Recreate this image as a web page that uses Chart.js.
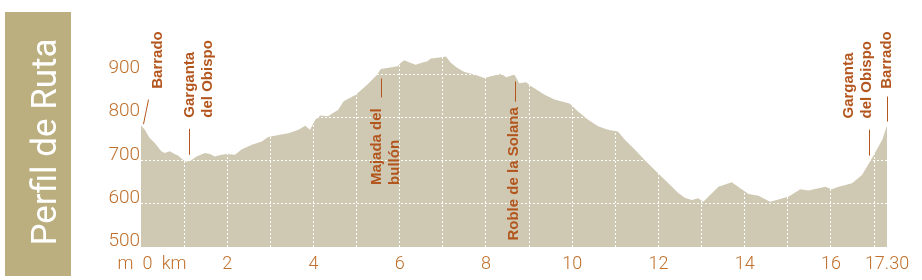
<!DOCTYPE html>
<html>
<head>
<meta charset="utf-8">
<script src="https://cdn.jsdelivr.net/npm/chart.js@4/dist/chart.umd.min.js"></script>
<style>
  html, body { margin: 0; padding: 0; background: #fff; }
  #wrap { width: 922px; height: 280px; }
</style>
</head>
<body>
<div id="wrap"><canvas id="perfil" width="922" height="280"></canvas></div>
<script>
// Perfil de la ruta: distancia (km) y altitud (m)
const distKm = [
    0, 0.09, 0.2, 0.32, 0.47, 0.55, 0.67, 0.78, 0.86, 0.98,
    1.05, 1.17, 1.29, 1.48, 1.6, 1.71, 1.87, 1.99, 2.18, 2.33,
    2.57, 2.8, 2.95, 3.19, 3.42, 3.65, 3.81, 3.92, 4.04, 4.16,
    4.34, 4.47, 4.57, 4.7, 4.98, 5.25, 5.48, 5.56, 5.71, 5.95,
    6.02, 6.1, 6.26, 6.37, 6.49, 6.64, 6.72, 6.88, 7.07, 7.19,
    7.34, 7.5, 7.73, 7.96, 8.12, 8.35, 8.47, 8.66, 8.77, 8.93,
    9.05, 9.36, 9.59, 9.74, 9.94, 10.13, 10.37, 10.6, 10.83, 11.06,
    11.22, 11.45, 11.68, 11.99, 12.23, 12.46, 12.61, 12.77, 12.92, 13.04,
    13.39, 13.7, 13.93, 14.09, 14.32, 14.59, 14.78, 15.02, 15.29, 15.48,
    15.87, 16.02, 16.18, 16.49, 16.72, 16.95, 17.19, 17.3
];
const elevM = [
    782, 772, 753, 741, 722, 718, 722, 716, 712, 702,
    698, 702, 710, 718, 716, 710, 714, 716, 714, 726,
    737, 745, 755, 760, 764, 772, 781, 772, 795, 805,
    803, 812, 818, 838, 853, 877, 900, 913, 915, 919,
    927, 933, 927, 923, 927, 931, 937, 939, 942, 927,
    915, 906, 900, 892, 896, 902, 894, 900, 880, 882,
    873, 853, 842, 838, 833, 815, 795, 780, 772, 768,
    749, 726, 702, 671, 648, 625, 614, 609, 613, 605,
    640, 650, 634, 623, 619, 605, 610, 617, 634, 631,
    640, 634, 640, 648, 667, 706, 749, 782
];

// Ejes
const yTicks = [500, 600, 700, 800, 900];
const xLabelKm = [0, 2, 4, 6, 8, 10, 12, 14, 16, 17.3];
const xLabels = ['\u2003\u2009m\u20020\u2002km', '2', '4', '6', '8', '10', '12', '14', '16', '17.30'];
const xGridKm = [1, 2, 3, 4, 5, 6, 7, 8, 9, 10, 11, 12, 13, 14, 15, 16, 17];

// Puntos de paso
const waypointKm = [0.05, 1.12, 5.57, 8.67, 16.88, 17.3];
const waypointNames = [
    ['Barrado'],
    ['Garganta', 'del Obispo'],
    ['Majada del', 'bullón'],
    ['Roble de la Solana'],
    ['Garganta', 'del Obispo'],
    ['Barrado']
];

const TICK_COLOR = '#c0702c';
const NOTE_COLOR = '#b3561e';

// colocacion de las etiquetas (solo maquetacion)
const noteLayout = [
    { top: 842, bottom: 785, topDx: 4.6, textDx: 15,   textBase: 867 },
    { top: 774, bottom: 714, topDx: 0,   textDx: 1,    textBase: 800 },
    { top: 891, bottom: 847, topDx: 0,   textDx: -4,   textBase: 644 },
    { top: 884, bottom: 837, topDx: 0,   textDx: -1.5, textBase: 515 },
    { top: 772, bottom: 712, topDx: 0,   textDx: -20,  textBase: 798 },
    { top: 849, bottom: 791, topDx: 0,   textDx: 0,    textBase: 867 }
];

const decorPlugin = {
    id: 'decor',
    afterDraw(chart) {
        const ctx = chart.ctx;
        const xs = chart.scales.x;
        const ys = chart.scales.y;

        // bloque del titulo
        ctx.save();
        ctx.fillStyle = '#bbaf7f';
        ctx.fillRect(5, 12, 66, 264);
        ctx.translate(56, 142);
        ctx.rotate(-Math.PI / 2);
        ctx.fillStyle = '#ffffff';
        ctx.font = '35px Roboto, "Open Sans", sans-serif';
        ctx.textAlign = 'center';
        ctx.textBaseline = 'alphabetic';
        ctx.fillText('Perfil de Ruta', 0, 0);
        ctx.restore();

        // puntos de paso
        waypointKm.forEach((km, i) => {
            const lay = noteLayout[i];
            const x = xs.getPixelForValue(km);
            ctx.save();
            ctx.strokeStyle = NOTE_COLOR;
            ctx.lineWidth = 1;
            ctx.beginPath();
            ctx.moveTo(Math.round(x + lay.topDx) + 0.5, ys.getPixelForValue(lay.top));
            ctx.lineTo(Math.round(x) + 0.5, ys.getPixelForValue(lay.bottom));
            ctx.stroke();

            ctx.fillStyle = NOTE_COLOR;
            ctx.font = 'bold 15px "Liberation Sans", Arial, sans-serif';
            ctx.textAlign = 'left';
            ctx.textBaseline = 'middle';
            const baseY = ys.getPixelForValue(lay.textBase);
            waypointNames[i].forEach((line, j) => {
                ctx.save();
                ctx.translate(x + lay.textDx + j * 17.5, baseY);
                ctx.rotate(-Math.PI / 2);
                ctx.fillText(line, 0, 0);
                ctx.restore();
            });
            ctx.restore();
        });
    }
};

new Chart(document.getElementById('perfil'), {
    type: 'line',
    data: {
        datasets: [{
            data: distKm.map((d, i) => ({ x: d, y: elevM[i] })),
            fill: 'start',
            backgroundColor: '#cfc9b4',
            borderWidth: 0,
            pointRadius: 0,
            tension: 0
        }]
    },
    options: {
        responsive: false,
        animation: false,
        devicePixelRatio: 1,
        layout: { padding: { top: 53, right: 35, left: 0, bottom: 0 } },
        plugins: { legend: { display: false }, tooltip: { enabled: false } },
        scales: {
            x: {
                type: 'linear',
                min: 0,
                max: 17.3,
                afterFit: (scale) => { scale.height = 33; },
                afterBuildTicks: (scale) => {
                    const vals = [...new Set([0, ...xGridKm, ...xLabelKm])].sort((a, b) => a - b);
                    scale.ticks = vals.map(v => ({ value: v }));
                },
                grid: {
                    z: 1,
                    drawTicks: false,
                    lineWidth: 1,
                    color: (c) => xGridKm.includes(c.tick && c.tick.value) ? '#ffffff' : 'rgba(0,0,0,0)'
                },
                border: { display: false, dash: [2, 2] },
                ticks: {
                    autoSkip: false,
                    maxRotation: 0,
                    padding: 7,
                    color: TICK_COLOR,
                    font: { family: 'Roboto', size: 18, weight: 300 },
                    callback: (v) => {
                        const i = xLabelKm.indexOf(v);
                        return i >= 0 ? xLabels[i] : '';
                    }
                }
            },
            y: {
                min: 500,
                max: 950,
                afterFit: (scale) => { scale.width = 141; },
                afterBuildTicks: (scale) => {
                    scale.ticks = yTicks.map(v => ({ value: v }));
                },
                grid: {
                    z: 1,
                    drawTicks: false,
                    lineWidth: 1,
                    color: (c) => (c.tick && c.tick.value > 500) ? '#ffffff' : 'rgba(0,0,0,0)'
                },
                border: { display: false, dash: [2, 2] },
                ticks: {
                    padding: 1,
                    labelOffset: -6,
                    color: TICK_COLOR,
                    font: { family: 'Roboto', size: 19, weight: 300 }
                }
            }
        }
    },
    plugins: [decorPlugin]
});
</script>
</body>
</html>
